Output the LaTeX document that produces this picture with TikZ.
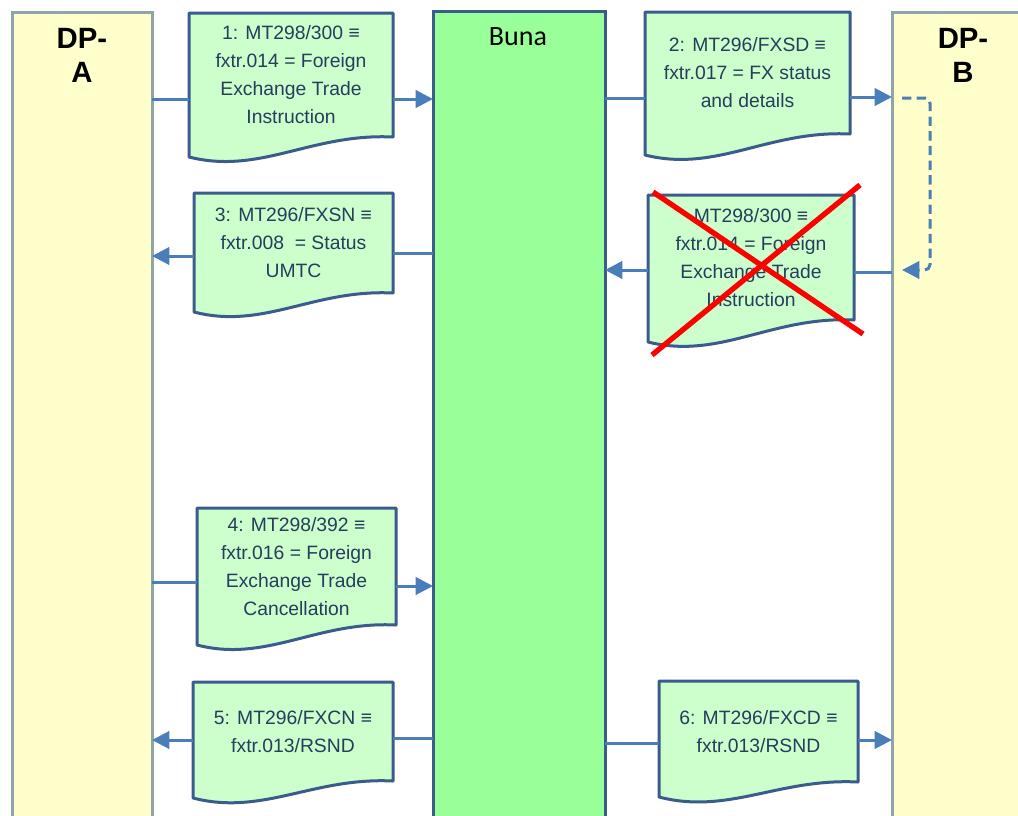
\documentclass[tikz,border=0pt]{standalone}
\usepackage{fontspec}
\setmainfont{Liberation Sans}
\newfontfamily\bunafont{Carlito}
\usetikzlibrary{arrows.meta,backgrounds,calc}
\definecolor{laneY}{HTML}{FFFFCC}
\definecolor{laneB}{HTML}{8FA6A6}
\definecolor{bunaG}{HTML}{99FF99}
\definecolor{navy}{HTML}{3B5B8C}
\definecolor{docG}{HTML}{CCFFCC}
\definecolor{txt}{HTML}{263D5C}
\definecolor{arr}{HTML}{4A7EBB}
\newcommand\wavedoc[2]{%
  \begin{scope}[on background layer]
  \path[docshape] (#1.north west) -- (#1.north east) -- (#1.south east)
    .. controls ($(#1.south east)!0.4!(#1.south west)+(0,-4)$) and ($(#1.south east)!0.65!(#1.south west)+(0,#2+18)$) .. ($(#1.south west)+(0,#2)$) -- cycle;
  \end{scope}}
\begin{document}
\begin{tikzpicture}[x=0.75pt,y=-0.75pt,
  lane/.style={rectangle,draw=laneB,fill=laneY,line width=2.25pt,inner sep=0pt,outer sep=0pt},
  bunalane/.style={rectangle,draw=navy,fill=bunaG,line width=2.25pt,inner sep=0pt,outer sep=0pt},
  lanelabel/.style={font=\bfseries\fontsize{22}{25.5}\selectfont,align=center,text=black},
  doc/.style={rectangle,draw=none,inner sep=0pt,outer sep=0pt,align=center,text=txt,
    font=\fontsize{14.5}{21}\selectfont},
  docshape/.style={draw=navy,fill=docG,line width=2.25pt,line join=round},
  link/.style={draw=arr,line width=2.25pt},
  linkarrow/.style={link,-{Triangle[length=13pt,width=13pt]}},
  dashlink/.style={link,dash pattern=on 7pt off 4pt,rounded corners=4pt,-{Triangle[length=13pt,width=13pt]}},
  cross/.style={draw=red,line width=4pt}
]
\useasboundingbox (0,0) rectangle (1018,815);
\clip (0,0) rectangle (1018,815);
% lanes
\node[lane,minimum width=105pt,minimum height=621pt] (dpa) at (82,426) {};
\node[lane,minimum width=111pt,minimum height=621pt] (dpb) at (966,426) {};
\node[bunalane,minimum width=129pt,minimum height=621pt] (buna) at (519,425.5) {};
\node[lanelabel] (dpaT) at (82,55) {DP-\\A};
\node[lanelabel] (dpbT) at (963,55) {DP-\\B};
\node[font=\bunafont\fontsize{21}{24}\selectfont,text=black] (bunaT) at (518,37) {Buna};
% documents
\node[doc,minimum width=153pt,minimum height=93pt] (d1) at (291,75)
  {1: MT298/300 ≡\\fxtr.014 = Foreign\\Exchange Trade\\Instruction};
\wavedoc{d1}{20}
\node[doc,minimum width=153.75pt,minimum height=91.5pt] (d2) at (747.5,73)
  {2: MT296/FXSD ≡\\fxtr.017 = FX status\\and details};
\wavedoc{d2}{21}
\node[doc,minimum width=149.25pt,minimum height=75pt] (d3) at (293.5,243)
  {3: MT296/FXSN ≡\\fxtr.008 \ = Status\\UMTC};
\wavedoc{d3}{19}
\node[doc,minimum width=154.5pt,minimum height=93.75pt] (dx) at (751,257.5)
  {MT298/300 ≡\\fxtr.014 = Foreign\\Exchange Trade\\Instruction};
\wavedoc{dx}{22}
\node[doc,minimum width=149.25pt,minimum height=87.75pt] (d4) at (296.5,566.5)
  {4: MT298/392 ≡\\fxtr.016 = Foreign\\Exchange Trade\\Cancellation};
\wavedoc{d4}{20}
\node[doc,minimum width=150pt,minimum height=74.25pt] (d5) at (293,731.5)
  {5: MT296/FXCN ≡\\fxtr.013/RSND};
\wavedoc{d5}{17}
\node[doc,minimum width=149.25pt,minimum height=75.75pt] (d6) at (758.5,731.5)
  {6: MT296/FXCD ≡\\fxtr.013/RSND};
\wavedoc{d6}{15}
% row levels
\coordinate (r1) at (0,99);
\coordinate (r2a) at (0,98);
\coordinate (r2b) at (0,97);
\coordinate (r3a) at (0,253);
\coordinate (r3b) at (0,256);
\coordinate (rxa) at (0,272);
\coordinate (rxb) at (0,270);
\coordinate (r4a) at (0,582);
\coordinate (r4b) at (0,586);
\coordinate (r5a) at (0,738);
\coordinate (r5b) at (0,740);
\coordinate (r6a) at (0,743);
\coordinate (r6b) at (0,740);
% connectors
\draw[link] (dpa.east |- r1) -- (d1.west |- r1);
\draw[linkarrow] (d1.east |- r1) -- (buna.west |- r1);
\draw[link] (buna.east |- r2a) -- (d2.west |- r2a);
\draw[linkarrow] (d2.east |- r2b) -- (dpb.west |- r2b);
\draw[link] (buna.west |- r3a) -- (d3.east |- r3a);
\draw[linkarrow] (d3.west |- r3b) -- (dpa.east |- r3b);
\draw[link] (dpb.west |- rxa) -- (dx.east |- rxa);
\draw[linkarrow] (dx.west |- rxb) -- (buna.east |- rxb);
\draw[link] (dpa.east |- r4a) -- (d4.west |- r4a);
\draw[linkarrow] (d4.east |- r4b) -- (buna.west |- r4b);
\draw[link] (buna.west |- r5a) -- (d5.east |- r5a);
\draw[linkarrow] (d5.west |- r5b) -- (dpa.east |- r5b);
\draw[link] (buna.east |- r6a) -- (d6.west |- r6a);
\draw[linkarrow] (d6.east |- r6b) -- (dpb.west |- r6b);
% dashed loop inside DP-B
\coordinate (dsA) at (902,98);
\coordinate (dsB) at (902,270);
\draw[dashlink] (dsA) -- ++(28,0) |- (dsB);
% red cross
\coordinate (xa1) at (653,192);
\coordinate (xa2) at (863,334);
\coordinate (xb1) at (860,185);
\coordinate (xb2) at (652,355);
\draw[cross] (xa1) -- (xa2);
\draw[cross] (xb1) -- (xb2);
\end{tikzpicture}
\end{document}
